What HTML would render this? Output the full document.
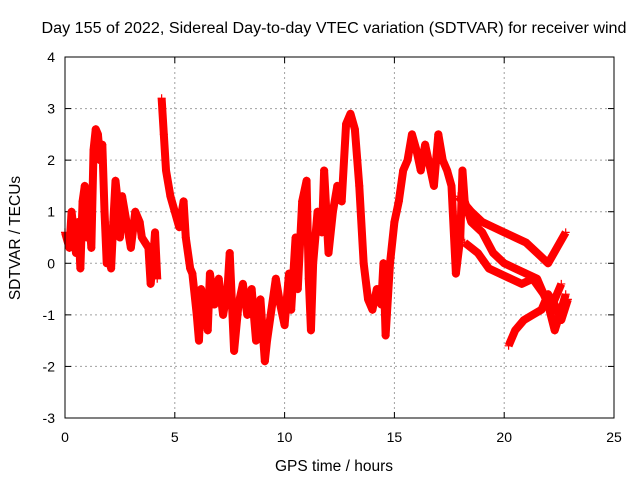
<!DOCTYPE html>
<html><head><meta charset="utf-8"><style>
html,body{margin:0;padding:0;background:#fff;}
svg{display:block;font-family:"Liberation Sans",sans-serif;}
</style></head><body>
<svg id="chart" width="640" height="480">
<text x="334" y="33" font-size="15.5" text-anchor="middle" textLength="585" lengthAdjust="spacingAndGlyphs">Day 155 of 2022, Sidereal Day-to-day VTEC variation (SDTVAR) for receiver wind</text>
<g id="grid"></g>
<g id="ticks"></g>
<g id="series"></g>
<rect x="65" y="57" width="549" height="361" fill="none" stroke="#000" stroke-width="1"/>
<text x="334" y="471" font-size="15.5" text-anchor="middle">GPS time / hours</text>
<text transform="translate(20,238) rotate(-90)" font-size="15.5" text-anchor="middle">SDTVAR / TECUs</text>
</svg>
<script>
const xTicks=[0,5,10,15,20,25];
const yTicks=[-3,-2,-1,0,1,2,3,4];
const mainT=[0,0.2,0.3,0.5,0.6,0.7,0.8,0.9,1.0,1.1,1.2,1.3,1.4,1.5,1.6,1.7,1.8,1.9,2.0,2.1,2.2,2.3,2.4,2.5,2.6,2.8,3.0,3.2,3.4,3.5,3.8,3.9,4.0,4.1,4.2];
const mainV=[0.6,0.3,1.0,0.2,0.8,-0.1,1.2,1.5,0.5,0.9,0.3,2.2,2.6,2.5,2.0,2.3,1.0,0.0,0.5,-0.1,0.8,1.6,1.2,0.5,1.3,0.8,0.3,1.0,0.8,0.5,0.3,-0.4,0.0,0.6,-0.3];
const midT=[4.4,4.5,4.6,4.8,5.0,5.2,5.4,5.5,5.7,5.8,6.0,6.1,6.2,6.4,6.5,6.6,6.8,7.0,7.2,7.4,7.5,7.7,7.9,8.1,8.3,8.5,8.7,8.9,9.1,9.2,9.4,9.6,9.8,10.0,10.2,10.3,10.5,10.6,10.8,11.0,11.1,11.2,11.3,11.5,11.7,11.8,12.0,12.2,12.4,12.6,12.8,13.0,13.2,13.4,13.6,13.8,14.0,14.2,14.4,14.5,14.6,14.8,15.0,15.2,15.4,15.6,15.8,16.0,16.2,16.4,16.6,16.8,17.0,17.2,17.4,17.6,17.8,18.0,18.1,18.2,18.5,19.0,19.5,20.0,20.5,21.0,21.5,22.0,22.3,22.6,22.8];
const midV=[3.2,2.5,1.8,1.3,1.0,0.7,1.2,0.5,-0.1,-0.2,-1.0,-1.5,-0.5,-1.0,-1.3,-0.2,-0.8,-0.3,-1.0,-0.5,0.2,-1.7,-0.8,-0.4,-1.0,-0.5,-1.5,-0.7,-1.9,-1.5,-0.9,-0.3,-0.8,-1.2,-0.2,-0.9,0.5,-0.5,1.2,1.6,-0.3,-1.3,0.0,1.0,0.6,1.8,0.2,1.0,1.5,1.2,2.7,2.9,2.6,1.5,0.0,-0.7,-0.9,-0.5,-0.8,0.0,-1.4,0.0,0.8,1.2,1.8,2.0,2.5,2.2,1.8,2.3,1.9,1.5,2.5,2.0,1.8,1.5,-0.2,0.5,1.8,1.2,0.8,0.6,0.2,0.0,-0.1,-0.2,-0.3,-0.8,-1.3,-0.9,-0.6];
const b1T=[17.9,18.5,19.0,19.5,20.0,20.5,21.0,21.5,22.0,22.4,22.8];
const b1V=[1.3,1.0,0.8,0.7,0.6,0.5,0.4,0.2,0.0,0.3,0.6];
const b2T=[18.2,18.8,19.3,19.8,20.3,20.8,21.3,21.8,22.2,22.6];
const b2V=[0.4,0.2,-0.1,-0.2,-0.3,-0.4,-0.3,-0.6,-0.8,-0.4];
const b3T=[20.2,20.5,20.9,21.3,21.7,22.0,22.3,22.6,22.9];
const b3V=[-1.6,-1.3,-1.1,-1.0,-0.9,-0.6,-0.8,-1.1,-0.7];
const NS="http://www.w3.org/2000/svg";
const X0=65,X1=614,Y0=418,Y1=57;
function xs(t){return X0+(t-0)/(25-0)*(X1-X0);}
function ys(v){return Y0-(v+3)/7*(Y0-Y1);}
function mk(tag,attrs,parent){const e=document.createElementNS(NS,tag);for(const k in attrs)e.setAttribute(k,attrs[k]);parent.appendChild(e);return e;}
const grid=document.getElementById('grid'),ticks=document.getElementById('ticks'),ser=document.getElementById('series');
xTicks.forEach(t=>{const x=xs(t);
 if(t>0&&t<25){const l=mk('line',{x1:x,y1:Y1,x2:x,y2:Y0,stroke:'#a0a0a0','stroke-dasharray':'2,3'},grid);
 
 }
 mk('line',{x1:x,y1:Y0,x2:x,y2:Y0-6,stroke:'#000'},grid);mk('line',{x1:x,y1:Y1,x2:x,y2:Y1+6,stroke:'#000'},grid);
 const tx=mk('text',{x:x,y:Y0+24,'font-size':14,'text-anchor':'middle'},ticks);tx.textContent=t;
 
 });
yTicks.forEach(v=>{const y=ys(v);
 if(v>-3&&v<4){const l=mk('line',{x1:X0,y1:y,x2:X1,y2:y,stroke:'#a0a0a0','stroke-dasharray':'2,3'},grid);
 
 }
 mk('line',{x1:X0,y1:y,x2:X0+6,y2:y,stroke:'#000'},grid);mk('line',{x1:X1,y1:y,x2:X1-6,y2:y,stroke:'#000'},grid);
 const tx=mk('text',{x:X0-10,y:y+5,'font-size':14,'text-anchor':'end'},ticks);tx.textContent=v;
 
 });
function draw(T,V,name){
 const g=mk('g',{},ser);
 
 
 const pts=T.map((t,i)=>xs(t)+','+ys(V[i])).join(' ');
 mk('polyline',{points:pts,fill:'none',stroke:'#ff0000','stroke-width':8,'stroke-linejoin':'round'},g);
 let d='';T.forEach((t,i)=>{const x=xs(t),y=ys(V[i]);d+=`M${x-4},${y}h8M${x},${y-4}v8`;});
 mk('path',{d:d,stroke:'#ff0000','stroke-width':1.2,fill:'none'},g);
}
draw(mainT,mainV,'series-early');
draw(midT,midV,'series-main');
draw(b1T,b1V,'series-branch-1');
draw(b2T,b2V,'series-branch-2');
draw(b3T,b3V,'series-branch-3');
</script>
</body></html>
